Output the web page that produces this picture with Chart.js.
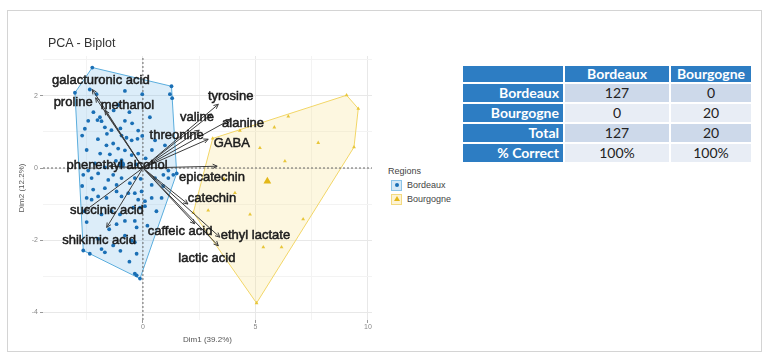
<!DOCTYPE html>
<html>
<head>
<meta charset="utf-8">
<script src="https://cdn.jsdelivr.net/npm/chart.js@4.4.1/dist/chart.umd.min.js"></script>
<style>
  body { margin: 0; background: #fff; font-family: "Liberation Sans", Arial, sans-serif; }
  #page { position: relative; width: 770px; height: 359px; overflow: hidden; }
  #frame { position: absolute; left: 7px; top: 10px; width: 755px; height: 342px; border: 1px solid #d4d4d4; box-sizing: border-box; }
  #chartBox { position: absolute; left: 0; top: 0; }
  #title { position: absolute; left: 48px; top: 36px; font-size: 12.5px; color: #333; }
  #legend { position: absolute; left: 388px; top: 166px; font-size: 9px; color: #444; }
  #legend .item { display: flex; align-items: center; height: 14px; }
  #legend .key { width: 11px; height: 11px; margin: 0 5px 0 3px; box-sizing: border-box; position: relative; }
  #legend .key.b { background: #d6e9f6; border: 1px solid #8cc4e8; }
  #legend .key.y { background: #fdf3d4; border: 1px solid #f3da80; }
  #legend .dot { position: absolute; left: 2.5px; top: 2.5px; width: 4px; height: 4px; border-radius: 50%; background: #1a6fb5; }
  #legend .tri { position: absolute; left: 1.5px; top: 1.5px; width: 0; height: 0; border-left: 3px solid transparent; border-right: 3px solid transparent; border-bottom: 5px solid #e3b819; }
  #tbl { position: absolute; left: 461px; top: 64px; border-collapse: separate; border-spacing: 2px; font-family: Lato, "Open Sans", sans-serif; font-size: 14px; }
  #tbl td { padding: 0 4px; height: 18px; line-height: 18px; }
  #tbl tr.head td { height: 16px; line-height: 16px; }
  #tbl td.h { background: #2d7dc3; color: #fff; font-weight: bold; }
  #tbl tr.head td.h { text-align: center; }
  #tbl td.rh { text-align: right; }
  #tbl td.d { text-align: center; color: #222; }
  #tbl tr.dark td.d { background: #cdd9ea; }
  #tbl tr.light td.d { background: #e8edf5; }
</style>
</head>
<body>
<div id="page">
  <div id="frame"></div>
  <div id="chartBox"><canvas id="biplot" width="380" height="359"></canvas></div>
  <div id="title">PCA - Biplot</div>
  <div id="legend">
    <div style="margin-bottom:2px">Regions</div>
    <div class="item"><span class="key b"><span class="dot"></span></span>Bordeaux</div>
    <div class="item"><span class="key y"><span class="tri"></span></span>Bourgogne</div>
  </div>
  <table id="tbl"></table>
</div>
<script>
// Axis ranges
const xMin = -4.44, xMax = 10.18;
const yMin = -4.22, yMax = 3.11;
const xTicks = [-2.5, 0, 2.5, 5, 7.5, 10];
const xTickLabels = [0, 5, 10];
const yTicks = [-4, -3, -2, -1, 0, 1, 2, 3];
const yTickLabels = [-4, -2, 0, 2];

// Individuals (Dim1, Dim2)
const bordeauxPts = [
  [-2.25, 2.79], [1.27, 2.27], [1.2, 2.05], [1.3, 1.94], [-3.02, 2.09], [-2.36, 2.18], [-2.06, 2.05],
  [-0.8, 2.14], [-0.03, 2.05], [-2.02, 1.33], [-1.84, 1.3], [-2.43, 1.31], [-2.58, 1.09], [-1.91, 1.41],
  [-1.69, 1.13], [-0.8, 1.31], [-0.48, 1.24], [-0.21, 1.04], [-0.95, 0.9], [-0.73, 0.84], [-0.5, 0.77],
  [-0.24, 0.81], [-0.03, 0.89], [-1.62, 0.63], [-1.32, 0.68], [-1.1, 0.54], [-1.47, 0.38], [-0.8, 0.49],
  [-0.5, 0.36], [-0.21, 0.4], [0.12, 0.27], [-2.13, 0.13], [-1.69, 0.02], [-2.43, -0.07], [-0.95, 0.22],
  [0.98, 0.63], [0.54, 0.77], [0.31, 1.41], [1.13, -0.07], [-2.65, -0.19], [-2.28, -0.28], [-1.99, -0.15],
  [-1.54, -0.33], [-1.32, -0.19], [-0.95, -0.28], [-1.17, -0.47], [-0.58, -0.42], [-0.36, -0.28],
  [-1.69, -0.56], [-2.21, -0.6], [-2.5, -0.83], [-2.28, -0.88], [-1.99, -0.79], [-1.62, -0.83],
  [-1.17, -0.65], [-0.95, -0.79], [-0.65, -0.7], [-0.36, -0.7], [-0.06, -0.65], [-0.21, -0.88],
  [0.09, -0.92], [0.39, -0.83], [0.83, -0.83], [-0.43, -1.1], [-0.13, -1.1], [0.09, -1.06], [-1.84, -1.29],
  [-1.39, -1.2], [-1.02, -1.29], [-0.8, -1.47], [-1.17, -1.56], [-0.36, -1.47], [-0.28, -1.65],
  [-0.8, -1.88], [-0.36, -2.06], [-0.5, -2.02], [-1.99, -1.97], [-1.84, -2.25], [-1.69, -2.34],
  [-2.65, -2.29], [-2.36, -2.38], [-1.32, -2.15], [-0.28, -2.38], [0.39, -0.47], [0.54, -0.28],
  [0.91, -0.19], [1.13, -0.28], [1.35, -0.19], [1.5, -0.15], [-0.28, -2.98], [-0.13, -3.07], [-0.36, -2.93],
  [-1.3, 1.6], [-1.1, 1.75], [-2.2, 1.55], [-0.6, 1.55], [-1.6, 0.95], [-1.2, 0.2], [-0.3, 0.1],
  [-2.5, 0.5], [-2.7, -0.5], [-2.6, -1.2], [-2.5, -1.5], [-1.5, -1.7], [-0.6, -2.6], [-1.0, -2.3],
  [0.2, -1.6], [0.6, -1.2], [0.9, -0.5], [-0.1, -0.3], [0.4, 0.5], [-1.9, 0.4], [-1.4, 1.05],
  [-2.7, 0.9], [-1.0, 1.1], [-2.0, 0.8]
];
const bourgognePts = [
  [9.05, 2.02], [9.57, 1.65], [9.38, 0.58], [6.46, 1.43], [5.84, 1.13], [4.31, 1.04], [5.2, 0.56],
  [6.31, 0.19], [7.79, 0.7], [4.09, -0.69], [2.9, -1.18], [2.24, -1.24], [4.76, -1.29], [7.12, -1.42],
  [5.35, -2.2], [6.16, -2.2], [5.05, -3.75], [3.1, 0.82], [3.6, -0.3]
];
const groupMeans = { Bordeaux: [-0.95, 0.1], Bourgogne: [5.53, -0.37] };

// Variables (loadings, scaled) and label positions
const varNames = ["galacturonic acid", "proline", "methanol", "tyrosine", "valine", "alanine",
  "threonine", "GABA", "phenethyl alcohol", "epicatechin", "catechin", "caffeic acid",
  "ethyl lactate", "lactic acid", "succinic acid", "shikimic acid"];
const varX = [-2.25, -2.1, -1.69, 3.35, 3.05, 3.9, 2.5, 2.9, -1.5, 3.3, 2.0, 2.3, 3.42, 3.35, -2.6, -1.61];
const varY = [2.18, 1.95, 1.6, 1.77, 1.5, 1.35, 1.05, 0.8, 0.05, 0.05, -1.0, -1.55, -1.92, -2.16, -1.2, -1.65];
const labelX = [-1.87, -3.1, -0.69, 3.9, 2.4, 4.45, 1.5, 3.95, -1.15, 3.07, 3.07, 1.65, 5.0, 2.84, -1.6, -1.95];
const labelY = [2.44, 1.82, 1.75, 2.0, 1.4, 1.23, 0.9, 0.68, 0.08, -0.25, -0.85, -1.75, -1.86, -2.5, -1.18, -2.02];

// Confusion table
const classes = ["Bordeaux", "Bourgogne"];
const predBordeaux = [127, 0];
const predBourgogne = [0, 20];
const totals = [127, 20];
const pctCorrect = ["100%", "100%"];

// build table
const tbl = document.getElementById("tbl");
function row(cls, head, vals) {
  const tr = document.createElement("tr");
  tr.className = cls;
  tr.innerHTML = `<td class="h rh" style="width:92px">${head}</td>` +
    vals.map((v, i) => `<td class="${cls === 'head' ? 'h' : 'd'}" style="width:${i ? 72 : 96}px">${v}</td>`).join("");
  tbl.appendChild(tr);
}
row("head", "", classes);
row("dark", "Bordeaux", predBordeaux);
row("light", "Bourgogne", predBourgogne);
row("dark", "Total", totals);
row("light", "% Correct", pctCorrect);

// convex hull (monotone chain)
function hull(pts) {
  const p = pts.slice().sort((a, b) => a[0] - b[0] || a[1] - b[1]);
  const cross = (o, a, b) => (a[0] - o[0]) * (b[1] - o[1]) - (a[1] - o[1]) * (b[0] - o[0]);
  const lower = [], upper = [];
  for (const q of p) {
    while (lower.length >= 2 && cross(lower[lower.length - 2], lower[lower.length - 1], q) <= 0) lower.pop();
    lower.push(q);
  }
  for (let i = p.length - 1; i >= 0; i--) {
    const q = p[i];
    while (upper.length >= 2 && cross(upper[upper.length - 2], upper[upper.length - 1], q) <= 0) upper.pop();
    upper.push(q);
  }
  const h = lower.slice(0, -1).concat(upper.slice(0, -1));
  h.push(h[0]);
  return h;
}
const xy = (a) => a.map((p) => ({ x: p[0], y: p[1] }));

const datasets = [
  {
    type: "line", data: xy(hull(bordeauxPts)), fill: "shape", order: 10,
    borderColor: "#5aaddd", backgroundColor: "rgba(130,190,232,0.28)", borderWidth: 1, pointRadius: 0, tension: 0
  },
  {
    type: "line", data: xy(hull(bourgognePts)), fill: "shape", order: 10,
    borderColor: "#f2d667", backgroundColor: "rgba(248,222,130,0.25)", borderWidth: 1, pointRadius: 0, tension: 0
  },
  {
    type: "line", data: [{ x: 0, y: yMin }, { x: 0, y: yMax }], order: 8,
    borderColor: "#666", borderWidth: 1, borderDash: [2, 2], pointRadius: 0
  },
  {
    type: "line", data: [{ x: xMin, y: 0 }, { x: xMax, y: 0 }], order: 8,
    borderColor: "#666", borderWidth: 1, borderDash: [2, 2], pointRadius: 0
  },
  {
    type: "scatter", data: xy(bordeauxPts), order: 6,
    backgroundColor: "#1a6fb5", borderColor: "#1a6fb5", pointRadius: 1.9, borderWidth: 0
  },
  {
    type: "scatter", data: xy(bourgognePts), order: 6, pointStyle: "triangle",
    backgroundColor: "#e8c63a", borderColor: "#e8c63a", pointRadius: 2.2, borderWidth: 0
  },
  {
    type: "scatter", data: xy([groupMeans.Bordeaux]), order: 5,
    backgroundColor: "#1a6fb5", borderColor: "#1a6fb5", pointRadius: 3.5, borderWidth: 0
  },
  {
    type: "scatter", data: xy([groupMeans.Bourgogne]), order: 5, pointStyle: "triangle",
    backgroundColor: "#e3b819", borderColor: "#e3b819", pointRadius: 4.5, borderWidth: 0
  }
];
// one line per variable, from origin
varNames.forEach((n, i) => {
  datasets.push({
    type: "line", data: [{ x: 0, y: 0 }, { x: varX[i], y: varY[i] }], order: 2,
    borderColor: "#3b3b3b", borderWidth: 1, pointRadius: 0
  });
});

const biplotLabels = {
  id: "biplotLabels",
  afterDatasetsDraw(chart) {
    const { ctx, scales: { x, y } } = chart;
    ctx.save();
    const x0 = x.getPixelForValue(0), y0 = y.getPixelForValue(0);
    ctx.strokeStyle = "#3b3b3b";
    ctx.lineWidth = 1;
    varNames.forEach((n, i) => {
      const x1 = x.getPixelForValue(varX[i]), y1 = y.getPixelForValue(varY[i]);
      const a = Math.atan2(y1 - y0, x1 - x0);
      ctx.beginPath();
      ctx.moveTo(x1 - 5 * Math.cos(a - 0.45), y1 - 5 * Math.sin(a - 0.45));
      ctx.lineTo(x1, y1);
      ctx.lineTo(x1 - 5 * Math.cos(a + 0.45), y1 - 5 * Math.sin(a + 0.45));
      ctx.stroke();
    });
    // labels, slightly heavy like the original
    ctx.fillStyle = "#1c1c1c";
    ctx.strokeStyle = "#1c1c1c";
    ctx.lineWidth = 0.5;
    ctx.font = "13px 'Liberation Sans', Arial, sans-serif";
    ctx.textAlign = "center";
    ctx.textBaseline = "middle";
    varNames.forEach((n, i) => {
      const px = x.getPixelForValue(labelX[i]), py = y.getPixelForValue(labelY[i]);
      ctx.fillText(n, px, py);
      ctx.strokeText(n, px, py);
    });
    ctx.restore();
  }
};

new Chart(document.getElementById("biplot").getContext("2d"), {
  type: "scatter",
  data: { datasets: datasets },
  options: {
    responsive: false,
    animation: false,
    layout: { padding: { left: 0, top: 56, right: 8, bottom: 9 } },
    plugins: { legend: { display: false }, tooltip: { enabled: false } },
    scales: {
      x: {
        type: "linear", min: xMin, max: xMax,
        afterBuildTicks: (s) => { s.ticks = xTicks.map((v) => ({ value: v })); },
        afterFit: (s) => { s.height = 30; },
        border: { display: false },
        grid: {
          color: (c) => (c.tick && c.tick.value % 5 === 0 ? "#e8e8e8" : "#f3f3f3"),
          tickColor: (c) => (c.tick && xTickLabels.includes(c.tick.value) ? "#999" : "rgba(0,0,0,0)"),
          tickLength: 3
        },
        ticks: {
          padding: 0, color: "#888", font: { size: 7 },
          callback: (v) => (xTickLabels.includes(v) ? String(v) : "")
        },
        title: { display: true, text: "Dim1 (39.2%)", color: "#555", font: { size: 8 }, padding: { bottom: 5 } }
      },
      y: {
        type: "linear", min: yMin, max: yMax,
        afterBuildTicks: (s) => { s.ticks = yTicks.map((v) => ({ value: v })); },
        afterFit: (s) => { s.width = 43; },
        border: { display: false },
        grid: {
          color: (c) => (c.tick && c.tick.value % 2 === 0 ? "#e8e8e8" : "#f3f3f3"),
          tickColor: (c) => (c.tick && yTickLabels.includes(c.tick.value) ? "#999" : "rgba(0,0,0,0)"),
          tickLength: 3
        },
        ticks: {
          padding: 2, color: "#888", font: { size: 7 },
          callback: (v) => (yTickLabels.includes(v) ? String(v) : "")
        },
        title: { display: true, text: "Dim2 (12.2%)", color: "#555", font: { size: 8 }, padding: { top: 17 } }
      }
    }
  },
  plugins: [biplotLabels]
});
</script>
</body>
</html>
